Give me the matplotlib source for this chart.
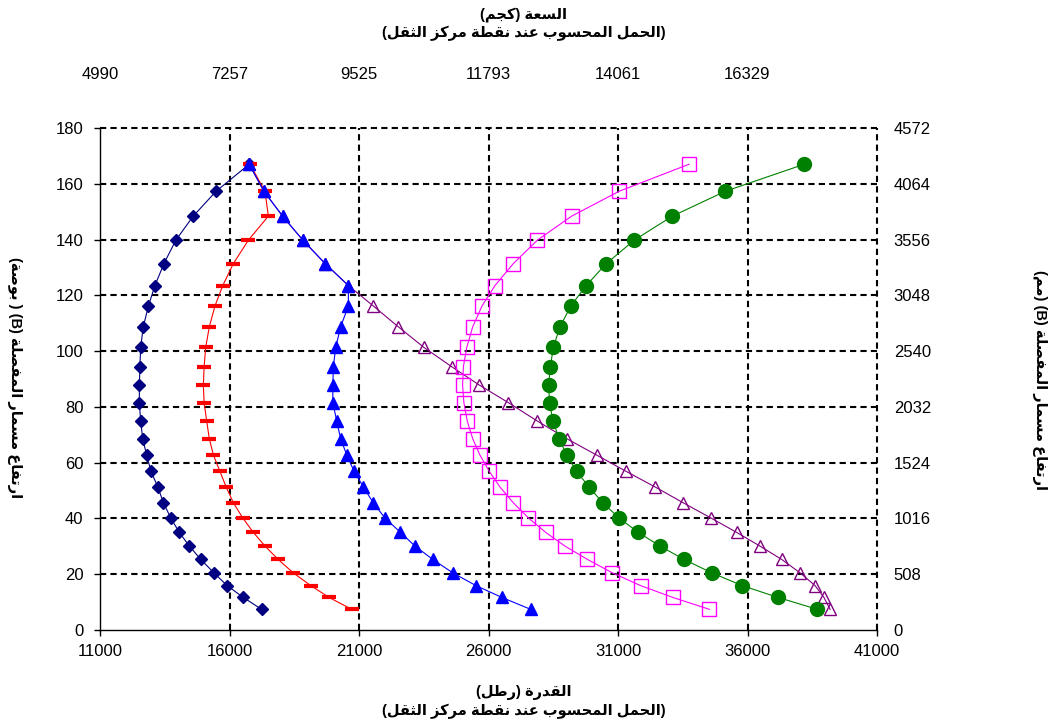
import numpy as np
import matplotlib
matplotlib.use("Agg")
import matplotlib.pyplot as plt

# hinge pin height (in) shared by all load curves
height_in = [7.4, 11.7, 15.9, 20.5, 25.3, 30.1, 35.0, 40.2, 45.6, 51.3, 56.9, 62.7, 68.6,
             74.9, 81.5, 87.8, 94.4, 101.3, 108.7, 116.2, 123.5, 131.4, 139.8, 148.4, 157.3, 167.0]

# capacity (lb) at the centre of gravity, one list per curve, bottom to top
cap_diamond = [17240, 16530, 15910, 15400, 14890, 14450, 14060, 13730, 13450, 13230, 12970, 12800, 12650,
               12570, 12520, 12520, 12540, 12570, 12670, 12870, 13120, 13470, 13930, 14600, 15480, 16760]
cap_dash = [20720, 19840, 19140, 18460, 17880, 17370, 16920, 16510, 16150, 15870, 15630, 15380, 15220,
            15120, 15020, 14990, 15020, 15080, 15220, 15440, 15740, 16150, 16730, 17500, 17370, 16790]
cap_triangle = [27630, 26510, 25520, 24620, 23850, 23160, 22600, 22000, 21550, 21170, 20810, 20530, 20290,
                20140, 19990, 19990, 20010, 20100, 20290, 20590, 20590, 19690, 18830, 18050, 17330, 16760]
cap_open_tri = [39190, 38950, 38610, 38030, 37320, 36480, 35580, 34580, 33520, 32430, 31310, 30180, 29020,
                27890, 26770, 25650, 24580, 23510, 22520, 21550, 20590, 19690, 18830, 18050, 17330, 16760]
cap_square = [34530, 33110, 31880, 30780, 29820, 28950, 28210, 27540, 26960, 26440, 26030, 25670, 25390,
              25180, 25050, 25000, 25030, 25160, 25390, 25750, 26250, 26960, 27890, 29210, 31040, 33740]
cap_circle = [38700, 37170, 35800, 34620, 33550, 32620, 31780, 31040, 30410, 29880, 29400, 29020, 28730,
              28490, 28360, 28320, 28390, 28500, 28760, 29180, 29770, 30550, 31630, 33100, 35140, 38190]

x_ticks_lb = [11000, 16000, 21000, 26000, 31000, 36000, 41000]
top_ticks_lb = [11000, 16000, 21000, 26000, 31000, 36000]
y_ticks_in = [0, 20, 40, 60, 80, 100, 120, 140, 160, 180]

title_top = "السعة (كجم)\n(الحمل المحسوب عند نقطة مركز الثقل)"
title_bottom = "القدرة (رطل)\n(الحمل المحسوب عند نقطة مركز الثقل)"
label_left = "ارتفاع مسمار المفصلة (B) ( بوصة)"
label_right = "ارتفاع مسمار المفصلة (B) (مم)"

# presentation-form bases: dual-joining letters and right-joining letters
DUAL = {'ب': 0xFE8F, 'ت': 0xFE95, 'ث': 0xFE99, 'ج': 0xFE9D, 'ح': 0xFEA1, 'س': 0xFEB1,
        'ص': 0xFEB9, 'ط': 0xFEC1, 'ع': 0xFEC9, 'ف': 0xFED1, 'ق': 0xFED5, 'ك': 0xFED9,
        'ل': 0xFEDD, 'م': 0xFEE1, 'ن': 0xFEE5, 'ي': 0xFEF1}
RIGHT = {'ا': 0xFE8D, 'ة': 0xFE93, 'د': 0xFEA9, 'ر': 0xFEAD, 'ز': 0xFEAF, 'و': 0xFEED}


def shape_line(text):
    out = []
    for i, ch in enumerate(text):
        if ch not in DUAL and ch not in RIGHT:
            out.append(ch)
            continue
        prev = text[i - 1] if i > 0 else ''
        nxt = text[i + 1] if i + 1 < len(text) else ''
        join_prev = prev in DUAL
        join_next = ch in DUAL and (nxt in DUAL or nxt in RIGHT)
        base = DUAL.get(ch, RIGHT.get(ch))
        if join_prev and join_next:
            form = 3
        elif join_prev:
            form = 1
        elif join_next:
            form = 2
        else:
            form = 0
        out.append(chr(base + form))
    vis = ''.join(reversed(out))
    return vis.translate(str.maketrans('()', ')('))


def ar(text):
    return '\n'.join(shape_line(t) for t in text.split('\n'))


FAM = ['Liberation Sans', 'DejaVu Sans']
plt.rcParams['font.family'] = FAM

fig = plt.figure(figsize=(10.48, 7.27), dpi=100)
ax = fig.add_axes([100 / 1048, 97 / 727, 777 / 1048, 502 / 727])

ax.plot(cap_diamond, height_in, color='#000080', marker='D', ms=6.5, lw=0.8)
ax.plot(cap_dash, height_in, color='#FF0000', marker='_', ms=10, mew=3, lw=0.8)
ax.plot(cap_open_tri, height_in, color='#800080', marker='^', ms=9, mfc='none', mew=1, lw=0.8)
ax.plot(cap_triangle, height_in, color='#0000FF', marker='^', ms=9, lw=0.8)
ax.plot(cap_square, height_in, color='#FF00FF', marker='s', ms=9.5, mfc='none', mew=1, lw=0.8)
ax.plot(cap_circle, height_in, color='#008000', marker='o', ms=10, lw=0.8)

ax.set_xlim(11000, 41000)
ax.set_ylim(0, 180)
ax.set_xticks(x_ticks_lb)
ax.set_yticks(y_ticks_in)
ax.grid(True, color='black', linestyle=(0, (3, 2)), linewidth=1.5)
ax.set_axisbelow(True)
for gl in ax.get_xgridlines() + ax.get_ygridlines():
    gl.set_clip_on(False)
# the solid axis lines stand in for the first grid lines
ax.get_xgridlines()[0].set_visible(False)
ax.get_ygridlines()[0].set_visible(False)
for side in ['top', 'right']:
    ax.spines[side].set_visible(False)
for side in ['left', 'bottom']:
    ax.spines[side].set_linewidth(1)
ax.tick_params(axis='both', labelsize=12, direction='out', length=4, width=1)
ax.tick_params(axis='y', pad=8)
ax.tick_params(axis='x', pad=6)

# right axis: same heights in millimetres
axr = ax.twinx()
axr.set_ylim(ax.get_ylim())
axr.set_yticks(y_ticks_in)
axr.set_yticklabels([f"{round(v * 25.4)}" for v in y_ticks_in])
axr.tick_params(axis='y', labelsize=12, length=0, pad=12)
for s in axr.spines.values():
    s.set_visible(False)

# top axis: same capacities in kilograms
axt = ax.twiny()
axt.set_xlim(ax.get_xlim())
axt.set_xticks(top_ticks_lb)
axt.set_xticklabels([f"{round(v * 0.45359237)}" for v in top_ticks_lb])
axt.tick_params(axis='x', labelsize=12, length=0, pad=33)
for s in axt.spines.values():
    s.set_visible(False)

fig.text(524 / 1048, 1 - 24 / 727, ar(title_top), ha='center', va='center',
         fontsize=10.5, fontweight='bold', linespacing=1.3)
fig.text(524 / 1048, 1 - 702 / 727, ar(title_bottom), ha='center', va='center',
         fontsize=10.5, fontweight='bold', linespacing=1.3)
fig.text(14 / 1048, 1 - 378 / 727, ar(label_left), ha='center', va='center',
         rotation=270, fontsize=10.5, fontweight='bold')
fig.text(1039 / 1048, 1 - 380 / 727, ar(label_right), ha='center', va='center',
         rotation=270, fontsize=10.5, fontweight='bold')

fig.savefig('out.png', dpi=100, facecolor='white')
